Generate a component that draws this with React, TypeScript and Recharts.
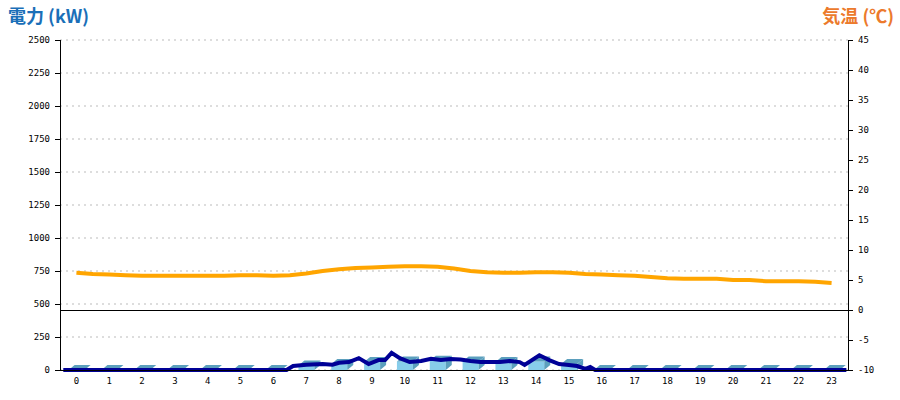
import {
  ComposedChart,
  Bar,
  Line,
  XAxis,
  YAxis,
  CartesianGrid,
  ReferenceLine,
} from 'recharts';

// Hourly power (bars, kW)
const HOURS = [0, 1, 2, 3, 4, 5, 6, 7, 8, 9, 10, 11, 12, 13, 14, 15, 16, 17, 18, 19, 20, 21, 22, 23];
const POWER_BARS = [0, 0, 0, 0, 0, 0, 0, 35, 45, 60, 65, 70, 65, 60, 65, 45, 0, 0, 0, 0, 0, 0, 0, 0];

// Power line (kW), sampled at irregular times
const POWER_TIMES = [
  -0.4, 6.4, 6.6, 7.0, 7.5, 7.8, 8.0, 8.3, 8.6, 8.9, 9.2, 9.4, 9.6, 9.85, 10.15, 10.5, 10.8, 11.1,
  11.4, 11.7, 12.0, 12.3, 12.9, 13.2, 13.5, 13.65, 14.1, 14.4, 14.7, 15.0, 15.25, 15.5, 15.65, 15.8, 23.45,
];
const POWER_LINE = [
  0, 0, 30, 40, 45, 40, 55, 60, 90, 45, 75, 75, 130, 90, 60, 68, 85, 75,
  83, 80, 68, 60, 60, 68, 60, 38, 112, 75, 45, 38, 30, 8, 23, 0, 0,
];

// Temperature (°C), every half hour
const TEMP_TIMES = [
  0, 0.5, 1, 1.5, 2, 2.5, 3, 3.5, 4, 4.5, 5, 5.5, 6, 6.5, 7, 7.5, 8, 8.5, 9, 9.5, 10, 10.5, 11, 11.5,
  12, 12.5, 13, 13.5, 14, 14.5, 15, 15.5, 16, 16.5, 17, 17.5, 18, 18.5, 19, 19.5, 20, 20.5, 21, 21.5,
  22, 22.5, 23,
];
const TEMPS = [
  6.2, 6.0, 5.9, 5.8, 5.7, 5.7, 5.7, 5.7, 5.7, 5.7, 5.8, 5.8, 5.7, 5.8, 6.1, 6.5, 6.8, 7.0, 7.1, 7.2,
  7.3, 7.3, 7.2, 6.9, 6.5, 6.3, 6.2, 6.2, 6.3, 6.3, 6.2, 6.0, 5.9, 5.8, 5.7, 5.5, 5.3, 5.2, 5.2, 5.2,
  5.0, 5.0, 4.8, 4.8, 4.8, 4.7, 4.5,
];

const LEFT_TICKS = [0, 250, 500, 750, 1000, 1250, 1500, 1750, 2000, 2250, 2500];
const RIGHT_TICKS = [-10, -5, 0, 5, 10, 15, 20, 25, 30, 35, 40, 45];

const barRows = HOURS.map((h, i) => ({ x: h, bar: POWER_BARS[i] }));
const powerRows = POWER_TIMES.map((t, i) => ({ x: t, pline: POWER_LINE[i] }));
const tempRows = TEMP_TIMES.map((t, i) => ({ x: t, temp: TEMPS[i] }));

const tickFont = { fontSize: 9, fontFamily: 'DejaVu Sans Mono', fill: '#000' };

// 3D-looking bar: front face + top + right side.
// Width is fixed here because the numeric axis squeezes the band.
function Bar3D(props: any) {
  const { x, y, width, height } = props;
  const w = 16;
  const left = x + width / 2 - w / 2;
  const dx = 6;
  const dy = 5;
  const h = Math.max(0, height);
  return (
    <g>
      <rect x={left} y={y} width={w} height={h} fill="#87cdea" />
      <polygon
        points={`${left},${y} ${left + dx},${y - dy} ${left + w + dx},${y - dy} ${left + w},${y}`}
        fill="#5b9fbd"
      />
      <polygon
        points={`${left + w},${y} ${left + w + dx},${y - dy} ${left + w + dx},${y + h - dy} ${left + w},${y + h}`}
        fill="#5b9fbd"
      />
    </g>
  );
}

export default function App() {
  const titleStyle = {
    position: 'absolute' as const,
    top: 2,
    fontFamily: '"Noto Sans CJK JP", sans-serif',
    fontWeight: 700,
    fontSize: 18,
    whiteSpace: 'nowrap' as const,
  };
  return (
    <div style={{ position: 'absolute', left: 0, top: 0, width: 900, height: 400, background: '#fff' }}>
      <div style={{ ...titleStyle, left: 8, color: '#1a6fb8' }}>電力 (kW)</div>
      <div style={{ ...titleStyle, right: 6, color: '#ec7a2c' }}>気温 (℃)</div>
      <ComposedChart
        width={900}
        height={400}
        data={barRows}
        margin={{ top: 40, right: 0, bottom: 0, left: 0 }}
      >
        <CartesianGrid
          yAxisId="left"
          vertical={false}
          stroke="#bbbbbb"
          strokeDasharray="2 4"
        />
        <XAxis
          dataKey="x"
          type="number"
          domain={[-0.5, 23.5]}
          ticks={HOURS}
          interval={0}
          height={30}
          tickLine={false}
          axisLine={{ stroke: '#000', shapeRendering: 'crispEdges' }}
          tick={tickFont}
          tickMargin={2}
        />
        <YAxis
          yAxisId="left"
          domain={[0, 2500]}
          ticks={LEFT_TICKS}
          interval={0}
          width={60}
          tickSize={5}
          tickMargin={5}
          axisLine={{ stroke: '#000', shapeRendering: 'crispEdges' }}
          tickLine={{ stroke: '#000', shapeRendering: 'crispEdges' }}
          tick={tickFont}
        />
        <YAxis
          yAxisId="right"
          orientation="right"
          domain={[-10, 45]}
          ticks={RIGHT_TICKS}
          interval={0}
          width={52}
          tickSize={5}
          tickMargin={5}
          axisLine={{ stroke: '#000', shapeRendering: 'crispEdges' }}
          tickLine={{ stroke: '#000', shapeRendering: 'crispEdges' }}
          tick={{ ...tickFont, textAnchor: 'start' }}
        />
        <ReferenceLine
          yAxisId="right"
          y={0}
          stroke="#000"
          strokeWidth={1}
          shapeRendering="crispEdges"
        />
        <Bar
          yAxisId="left"
          dataKey="bar"
          shape={<Bar3D />}
          isAnimationActive={false}
        />
        <Line
          yAxisId="left"
          data={powerRows}
          dataKey="pline"
          type="linear"
          stroke="#000096"
          strokeWidth={4}
          dot={false}
          isAnimationActive={false}
        />
        <Line
          yAxisId="right"
          data={tempRows}
          dataKey="temp"
          type="linear"
          stroke="#ffa500"
          strokeWidth={4}
          dot={false}
          isAnimationActive={false}
        />
      </ComposedChart>
    </div>
  );
}
